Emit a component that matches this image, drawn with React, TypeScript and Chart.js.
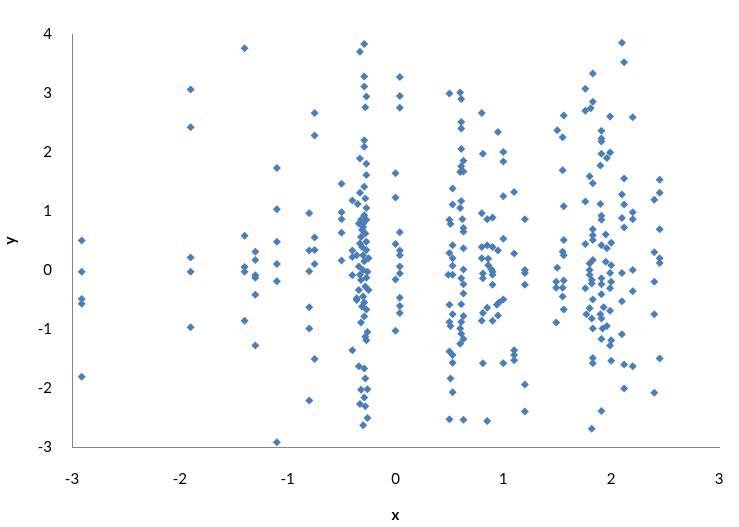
import React, { useEffect, useRef } from "react";
import { Chart, registerables } from "chart.js";

Chart.register(...registerables);

// Cluster 1: x < -0.6
const c1X = [
  -2.91, -2.91, -2.91, -2.91, -2.91,
  -1.9, -1.9, -1.9, -1.9, -1.9,
  -1.4, -1.4, -1.4, -1.4, -1.4,
  -1.3, -1.3, -1.3, -1.3, -1.3, -1.3,
  -1.1, -1.1, -1.1, -1.1, -1.1, -1.1,
  -0.8, -0.8, -0.8, -0.8, -0.8, -0.8,
  -0.75, -0.75, -0.75, -0.75, -0.75, -0.75,
];
const c1Y = [
  0.5, -0.03, -0.49, -0.57, -1.81,
  3.06, 2.42, 0.21, -0.03, -0.97,
  3.76, 0.58, 0.05, -0.03, -0.86,
  0.31, 0.17, -0.09, -0.13, -0.42, -1.28,
  1.73, 1.03, 0.48, 0.1, -0.19, -2.92,
  0.96, 0.33, -0.02, -0.63, -0.99, -2.21,
  2.66, 2.28, 0.55, 0.34, 0.1, -1.51,
];

// Cluster 2: -0.5 .. 0.05
const c2X = [
  -0.5, -0.5, -0.5, -0.5, -0.5,
  -0.4, -0.4, -0.4, -0.4, -0.4,
  -0.29, -0.33, -0.29, -0.29, -0.27, -0.28, -0.29, -0.29, -0.33, -0.27,
  -0.27, -0.29, -0.33, -0.28, -0.35, -0.27, -0.29, -0.34, -0.3, -0.28,
  -0.32, -0.27, -0.31, -0.27, -0.36, -0.3, -0.25, -0.34, -0.3, -0.26,
  -0.32, -0.28, -0.34, -0.25, -0.36, -0.3, -0.36, -0.29, -0.27, -0.29,
  -0.32, -0.26, -0.28, -0.27, -0.34, -0.29, -0.28, -0.32, -0.26, -0.29,
  -0.33, -0.28, -0.26, -0.3,
  -0.31, -0.27, -0.33, -0.29, -0.33, -0.27, -0.31, -0.32, -0.3,
  0, 0, 0, 0, 0, 0,
  0.04, 0.04, 0.04, 0.04, 0.04, 0.04, 0.04, 0.04, 0.04, 0.04, 0.04,
];
const c2Y = [
  1.46, 0.98, 0.86, 0.63, 0.16,
  1.18, 0.33, 0.22, -0.09, -1.36,
  3.83, 3.7, 3.28, 3.11, 2.94, 2.76, 2.2, 2.09, 1.89, 1.8,
  1.61, 1.41, 1.31, 1.21, 1.12, 1.05, 0.93, 0.79, 0.73, 0.62,
  0.56, 0.48, 0.39, 0.34, 0.25, 0.25, 0.2, 0.06, 0.0, -0.03,
  -0.17, -0.28, -0.34, -0.34, -0.48, -0.45, -0.51, -0.55, -0.67, -0.79,
  -0.89, -1.05, -1.13, -1.19, -1.63, -1.67, -1.84, -2.03, -2.02, -2.16,
  -2.27, -2.31, -2.51, -2.63,
  0.68, 0.85, 0.45, 0.15, -0.08, -0.13, -0.62, 0.85, 0.79,
  4.07, 1.64, 1.23, 0.44, -0.16, -1.03,
  3.27, 2.95, 2.75, 0.64, 0.33, 0.25, 0.06, -0.06, -0.47, -0.61, -0.73,
];

// Cluster 3: 0.5 .. 1.2
const c3X = [
  0.5, 0.5, 0.51, 0.5, 0.49, 0.5, 0.5, 0.51, 0.5, 0.5, 0.51,
  0.53, 0.53, 0.53, 0.53, 0.53, 0.53, 0.53, 0.53, 0.53, 0.53,
  0.6, 0.61, 0.61, 0.61, 0.61, 0.63, 0.61, 0.6, 0.63, 0.61, 0.6, 0.62, 0.63, 0.63,
  0.63, 0.63, 0.61, 0.63, 0.63, 0.61, 0.63, 0.61, 0.6, 0.61, 0.63, 0.6, 0.63,
  0.8, 0.81, 0.8, 0.8, 0.8, 0.81, 0.81, 0.81, 0.8, 0.81,
  0.85, 0.85, 0.86, 0.86, 0.85, 0.85,
  0.9, 0.9, 0.89, 0.9, 0.9, 0.9, 0.9,
  0.95, 0.95, 0.94, 0.95,
  1.0, 1.0, 1.0, 1.0, 1.0, 1.0, 0.96,
  1.1, 1.1, 1.1, 1.1, 1.1,
  1.2, 1.2, 1.2, 1.2, 1.2, 1.2,
];
const c3Y = [
  2.99, 0.85, 0.78, 0.29, -0.08, -0.59, -0.88, -0.95, -1.38, -2.53, -1.84,
  1.38, 1.11, 0.42, 0.2, 0.07, -0.08, -0.75, -1.44, -1.57, -2.07,
  3.01, 2.9, 2.51, 2.4, 2.05, 1.85, 1.76, 1.66, 1.67, 1.17, 1.05, 0.86, 0.71, 0.65,
  0.37, 0.01, -0.14, -0.24, -0.4, -0.58, -0.78, -0.88, -0.99, -1.08, -1.17, -1.25, -2.54,
  2.66, 1.97, 0.96, 0.39, 0.2, -0.06, -0.14, -0.73, -0.86, -1.58,
  0.86, 0.42, 0.19, 0.08, -0.64, -2.56,
  0.89, 0.39, 0.01, -0.03, -0.08, -0.25, -0.86,
  2.34, 0.33, -0.59, -0.77,
  2.0, 1.84, 1.25, 0.53, -0.5, -1.58, -0.55,
  1.32, 0.28, -1.36, -1.44, -1.53,
  0.86, 0.0, -0.05, -0.25, -1.94, -2.4,
];

// Cluster 4: 1.5 .. 2.45
const c4X = [
  1.5, 1.5, 1.49, 1.49, 1.49,
  1.56, 1.55, 1.55, 1.56, 1.56, 1.55, 1.56, 1.56, 1.55, 1.55, 1.56,
  1.76, 1.76, 1.76, 1.76, 1.76, 1.77,
  1.83, 1.83, 1.81, 1.8, 1.83, 1.83, 1.83, 1.83, 1.83, 1.8, 1.8, 1.8, 1.82, 1.82,
  1.83, 1.8, 1.82, 1.83, 1.83, 1.83, 1.82,
  1.91, 1.91, 1.91, 1.91, 1.9, 1.9, 1.91, 1.91, 1.91, 1.91, 1.91, 1.91, 1.93, 1.9,
  1.91, 1.92, 1.91, 1.91,
  1.99, 1.99, 1.96, 1.95, 2.0, 1.96, 1.95, 2.0, 1.99, 2.0, 1.99, 1.99, 1.96, 2.0,
  1.99, 2.0,
  2.1, 2.12, 2.12, 2.1, 2.12, 2.1, 2.12, 2.1, 2.1, 2.1, 2.12, 2.12,
  2.2, 2.2, 2.2, 2.2, 2.2, 2.2,
  2.4, 2.4, 2.4, 2.4, 2.4,
  2.45, 2.45, 2.45, 2.45, 2.45, 2.45,
];
const c4Y = [
  2.37, 0.04, -0.2, -0.3, -0.89,
  2.62, 2.25, 1.69, 1.08, 0.51, 0.31, 0.25, -0.18, -0.3, -0.45, -0.67,
  3.07, 2.7, 1.16, 0.44, -0.31, -0.75,
  3.33, 2.85, 2.74, 1.59, 1.47, 0.69, 0.59, 0.51, 0.17, 0.11, 0.0, -0.08, -0.17, -0.23,
  -0.5, -0.65, -0.82, -0.99, -1.49, -1.58, -2.69,
  2.36, 2.23, 2.18, 1.97, 1.77, 1.12, 0.92, 0.85, 0.42, -0.14, -0.24, -0.41, -0.63, -0.75,
  -0.82, -0.99, -1.17, -2.39,
  2.6, 1.99, 1.9, 0.6, 0.46, 0.37, 0.14, 0.08, -0.05, -0.2, -0.31, -0.69, -0.95, -1.19,
  -1.28, -1.54,
  3.85, 3.52, 1.55, 1.28, 1.11, 0.88, 0.72, -0.05, -0.53, -1.09, -1.6, -2.01,
  2.59, 0.98, 0.86, 0.0, -0.36, -1.63,
  1.19, 0.3, -0.2, -0.75, -2.08,
  1.53, 1.31, 0.69, 0.2, 0.12, -1.5,
];

const xTicks = [-3, -2, -1, 0, 1, 2, 3];
const yTicks = [-3, -2, -1, 0, 1, 2, 3, 4];

function pairs(xs: number[], ys: number[]) {
  return xs.map((x, i) => ({ x, y: ys[i] }));
}

export default function App() {
  const ref = useRef<HTMLCanvasElement | null>(null);

  useEffect(() => {
    if (!ref.current) return;
    const data = [
      ...pairs(c1X, c1Y),
      ...pairs(c2X, c2Y),
      ...pairs(c3X, c3Y),
      ...pairs(c4X, c4Y),
    ];
    const tickFont = { family: "Lato", size: 15 };
    const titleFont = { family: "Lato", size: 15, weight: "bold" as const };
    const chart = new Chart(ref.current, {
      type: "scatter",
      data: {
        datasets: [
          {
            data,
            pointStyle: "rectRot",
            pointRadius: 4,
            pointBorderWidth: 0,
            pointBackgroundColor: "#4a7ebb",
            pointBorderColor: "#4a7ebb",
          },
        ],
      },
      options: {
        responsive: false,
        animation: false,
        layout: { padding: { left: 0, right: 20, top: 34, bottom: 0 } },
        plugins: { legend: { display: false }, tooltip: { enabled: false } },
        scales: {
          x: {
            type: "linear",
            min: xTicks[0],
            max: xTicks[xTicks.length - 1],
            afterBuildTicks: (s: any) => {
              s.ticks = xTicks.map((v) => ({ value: v }));
            },
            ticks: { font: tickFont, color: "#000", padding: 23 },
            grid: { display: false, drawTicks: false },
            border: { display: true, color: "#868686", width: 1 },
            title: {
              display: true,
              text: "x",
              font: titleFont,
              color: "#000",
              padding: { top: 0, bottom: 3 },
            },
            afterFit: (s: any) => {
              s.height = 80;
              s.paddingLeft = 0;
              s.paddingRight = 0;
            },
          },
          y: {
            type: "linear",
            min: yTicks[0],
            max: yTicks[yTicks.length - 1],
            afterBuildTicks: (s: any) => {
              s.ticks = yTicks.map((v) => ({ value: v }));
            },
            ticks: { font: tickFont, color: "#000", padding: 20 },
            grid: { display: false, drawTicks: false },
            border: { display: true, color: "#868686", width: 1 },
            title: {
              display: true,
              text: "y",
              font: titleFont,
              color: "#000",
              padding: { top: 1, bottom: 0 },
            },
            afterFit: (s: any) => {
              s.width = 72;
            },
          },
        },
      },
    });
    return () => chart.destroy();
  }, []);

  return (
    <div style={{ position: "absolute", left: 0, top: 0, width: 739, height: 527, background: "#fff" }}>
      <canvas ref={ref} width={739} height={527} style={{ width: 739, height: 527 }} />
    </div>
  );
}
